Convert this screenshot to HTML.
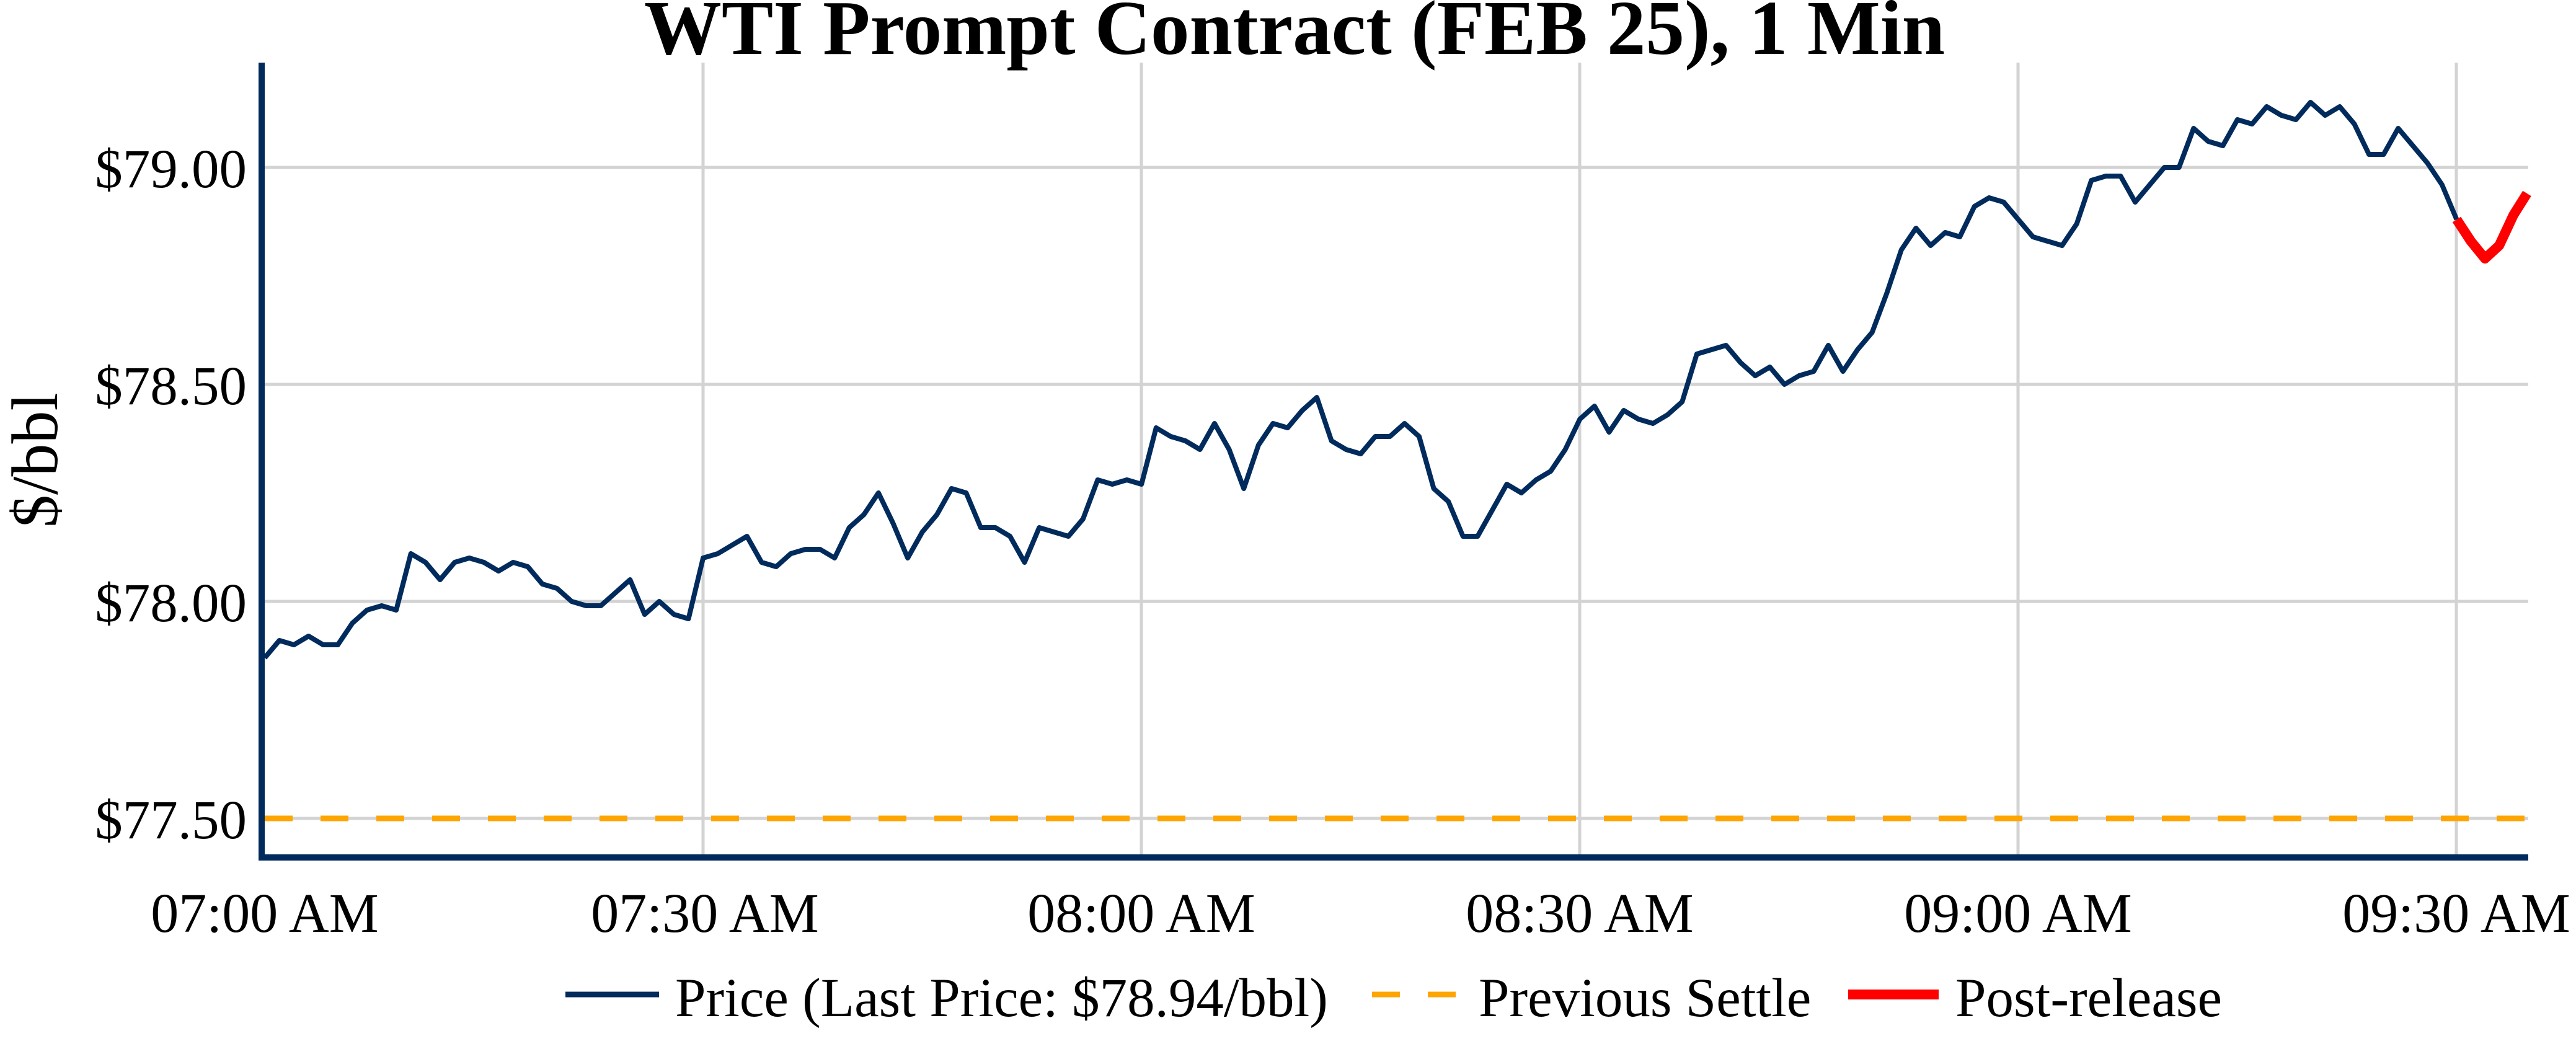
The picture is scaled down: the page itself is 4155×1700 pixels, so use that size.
<!DOCTYPE html>
<html><head><meta charset="utf-8"><style>
html,body{margin:0;padding:0;background:#fff;}
svg{display:block;}
text{font-family:"Liberation Serif",serif;fill:#000;}
</style></head><body>
<svg id="s" width="4155" height="1700" viewBox="0 0 4155 1700" xmlns="http://www.w3.org/2000/svg">
<text x="2088" y="87" font-size="125" font-weight="bold" text-anchor="middle">WTI Prompt Contract (FEB 25), 1 Min</text>
<g stroke="#d3d3d3" stroke-width="5">
<line x1="1134" y1="101" x2="1134" y2="1380"/>
<line x1="1841" y1="101" x2="1841" y2="1380"/>
<line x1="2548" y1="101" x2="2548" y2="1380"/>
<line x1="3255" y1="101" x2="3255" y2="1380"/>
<line x1="3962" y1="101" x2="3962" y2="1380"/>
<line x1="427" y1="270" x2="4078" y2="270"/>
<line x1="427" y1="620" x2="4078" y2="620"/>
<line x1="427" y1="970" x2="4078" y2="970"/>
<line x1="427" y1="1320" x2="4078" y2="1320"/>
</g>
<line x1="427" y1="1320" x2="4078" y2="1320" stroke="#ffa500" stroke-width="9" stroke-dasharray="45,45"/>
<path id="p" fill="none" stroke="#002b5c" stroke-width="8" stroke-linejoin="round"/>
<path id="r" fill="none" stroke="#ff0000" stroke-width="16" stroke-linejoin="round"/>
<line x1="422" y1="101" x2="422" y2="1388" stroke="#002b5c" stroke-width="10"/>
<line x1="417" y1="1383" x2="4078" y2="1383" stroke="#002b5c" stroke-width="10"/>
<g font-size="89" text-anchor="end">
<text x="398" y="302">$79.00</text>
<text x="398" y="652">$78.50</text>
<text x="398" y="1002">$78.00</text>
<text x="398" y="1352">$77.50</text>
</g>
<g font-size="90" text-anchor="middle">
<text x="427" y="1503">07:00 AM</text>
<text x="1137" y="1503">07:30 AM</text>
<text x="1841" y="1503">08:00 AM</text>
<text x="2548" y="1503">08:30 AM</text>
<text x="3255" y="1503">09:00 AM</text>
<text x="3962" y="1503">09:30 AM</text>
</g>
<text font-size="106" text-anchor="middle" transform="translate(92,742) rotate(-90)">$/bbl</text>
<line x1="912" y1="1604" x2="1063" y2="1604" stroke="#002b5c" stroke-width="9"/>
<text x="1089" y="1639" font-size="89">Price (Last Price: $78.94/bbl)</text>
<line x1="2213" y1="1604" x2="2358" y2="1604" stroke="#ffa500" stroke-width="9" stroke-dasharray="45,45"/>
<text x="2385" y="1639" font-size="89">Previous Settle</text>
<line x1="2981" y1="1604" x2="3127" y2="1604" stroke="#ff0000" stroke-width="16"/>
<text x="3154" y="1639" font-size="89">Post-release</text>
</svg>
<script>
var d=[77.87,77.91,77.90,77.92,77.90,77.90,77.95,77.98,77.99,77.98,78.11,78.09,78.05,78.09,78.10,78.09,78.07,78.09,78.08,78.04,78.03,78.00,77.99,77.99,78.02,78.05,77.97,78.00,77.97,77.96,
78.10,78.11,78.13,78.15,78.09,78.08,78.11,78.12,78.12,78.10,78.17,78.20,78.25,78.18,78.10,78.16,78.20,78.26,78.25,78.17,78.17,78.15,78.09,78.17,78.16,78.15,78.19,78.28,78.27,78.28,
78.27,78.40,78.38,78.37,78.35,78.41,78.35,78.26,78.36,78.41,78.40,78.44,78.47,78.37,78.35,78.34,78.38,78.38,78.41,78.38,78.26,78.23,78.15,78.15,78.21,78.27,78.25,78.28,78.30,78.35,
78.42,78.45,78.39,78.44,78.42,78.41,78.43,78.46,78.57,78.58,78.59,78.55,78.52,78.54,78.50,78.52,78.53,78.59,78.53,78.58,78.62,78.71,78.81,78.86,78.82,78.85,78.84,78.91,78.93,78.92,
78.88,78.84,78.83,78.82,78.87,78.97,78.98,78.98,78.92,78.96,79.00,79.00,79.09,79.06,79.05,79.11,79.10,79.14,79.12,79.11,79.15,79.12,79.14,79.10,79.03,79.03,79.09,79.05,79.01,78.96,78.88];
var r=[78.88,78.83,78.79,78.82,78.89,78.94];
function X(i){return 427+i*23.57;}function Y(v){return 270+(79-v)*700;}
var s="";d.forEach(function(v,i){s+=(i?"L":"M")+X(i).toFixed(1)+","+Y(v).toFixed(1);});
document.getElementById("p").setAttribute("d",s);
s="";r.forEach(function(v,i){var x=Math.min(X(150+i*0.97),4076);s+=(i?"L":"M")+x.toFixed(1)+","+Y(v).toFixed(1);});
document.getElementById("r").setAttribute("d",s);
</script>
</body></html>
